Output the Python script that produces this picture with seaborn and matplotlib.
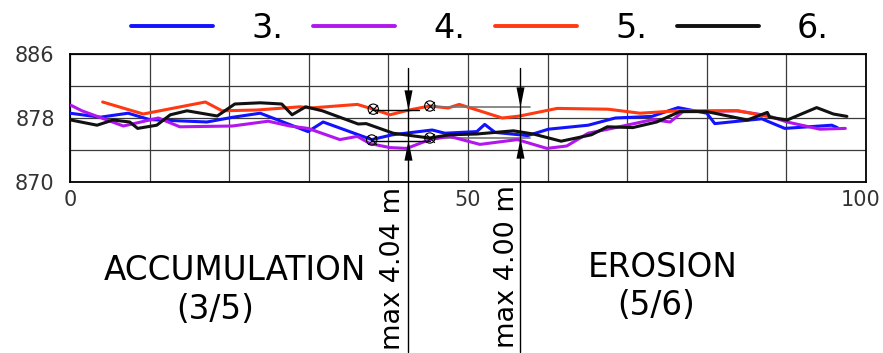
import numpy as np
import pandas as pd
import matplotlib
matplotlib.use('Agg')
import matplotlib.pyplot as plt
import matplotlib.transforms as mtransforms
import seaborn as sns
from matplotlib.path import Path

# ── profile data (distance [m], elevation [m]) ────────────────────────────────
x3 = [0.0, 3.8, 7.3, 10.0, 17.2, 20.5, 23.9, 29.9, 31.8, 37.9, 40.5, 45.5, 47.1, 51.1,
      52.1, 53.4, 57.5, 60.1, 65.1, 68.5, 73.1, 76.4, 80.0, 81.0, 86.9, 89.8, 95.7, 96.4]
y3 = [878.6, 878.1, 878.6, 877.8, 877.5, 878.1, 878.6, 876.3, 877.5, 875.3, 875.9, 876.5, 876.1, 876.3,
      877.2, 876.2, 875.8, 876.6, 877.1, 878.0, 878.2, 879.3, 878.6, 877.3, 877.9, 876.7, 877.1, 876.8]

x4 = [0.1, 1.5, 6.7, 11.1, 13.8, 20.4, 24.9, 27.6, 29.9, 33.9, 36.1, 37.7, 40.2, 42.3, 45.2,
      47.7, 51.5, 56.2, 59.9, 62.4, 65.1, 67.6, 73.2, 75.4, 77.0, 83.8, 87.6, 90.1, 94.2, 97.4]
y4 = [879.6, 878.9, 877.0, 878.0, 876.9, 877.0, 877.6, 877.0, 876.7, 875.3, 875.7, 874.8, 874.3, 874.2, 875.3,
      875.7, 874.7, 875.3, 874.2, 874.5, 876.1, 876.6, 877.8, 877.5, 878.8, 878.9, 878.3, 877.5, 876.6, 876.7]

x5 = [4.1, 9.2, 17.0, 19.1, 23.5, 28.9, 30.2, 36.1, 38.1, 40.2, 42.6, 45.2, 47.5, 48.9,
      54.3, 56.5, 61.2, 67.6, 71.6, 76.4, 83.9, 88.2]
y5 = [880.0, 878.5, 880.0, 878.9, 879.0, 879.4, 879.25, 879.7, 879.1, 878.4, 879.0, 879.5, 879.25, 879.7,
      878.0, 878.25, 879.2, 879.1, 878.6, 878.9, 878.9, 878.1]

x6 = [0.1, 3.4, 5.4, 7.5, 8.5, 10.9, 12.6, 14.7, 18.5, 20.7, 23.9, 26.6, 27.9, 29.6, 31.7, 36.2,
      37.2, 40.6, 43.6, 45.2, 47.7, 51.1, 55.7, 58.2, 61.7, 65.5, 67.5, 70.7, 73.7, 76.6, 80.0,
      85.1, 87.6, 87.9, 90.1, 93.8, 95.9, 97.6]
y6 = [877.75, 877.1, 877.75, 877.5, 876.7, 877.1, 878.4, 878.9, 878.25, 879.75, 879.9, 879.75, 878.4, 879.4, 878.9, 877.25,
      877.3, 876.1, 875.7, 875.5, 875.9, 876.0, 876.4, 876.0, 875.1, 875.9, 876.9, 876.8, 877.5, 878.8, 878.8,
      877.75, 878.7, 878.1, 877.75, 879.3, 878.5, 878.2]

labels = ['3.', '4.', '5.', '6.']
colors = ['#1212FF', '#B216EE', '#FF3A12', '#111111']

# measured points and max-difference arrows
mk_x = [38.1, 45.2, 37.9, 45.2]
mk_y = [879.1, 879.5, 875.25, 875.5]
arrow_x = [42.5, 56.5]
arrow_top = [879.0, 879.4]
arrow_bot = [875.2, 875.5]
arrow_txt = ['max 4.04 m', 'max 4.00 m']

df = pd.concat([pd.DataFrame({'dist': x, 'elev': y, 'serie': lab})
                for x, y, lab in zip([x3, x4, x5, x6], [y3, y4, y5, y6], labels)],
               ignore_index=True)

sns.set_style('white')
plt.rcParams['font.family'] = ['DejaVu Sans']
plt.rcParams['text.color'] = 'black'

fig = plt.figure(figsize=(8.83, 3.53), dpi=100)
ax = fig.add_axes([70/883, 1-182/353, (866-70)/883, 128/353])

sns.lineplot(data=df, x='dist', y='elev', hue='serie', hue_order=labels,
             palette=dict(zip(labels, colors)), estimator=None, sort=False,
             lw=2.2, legend=False, ax=ax, zorder=3)
handles = list(ax.lines[:4])

ax.set_xlim(0, 100); ax.set_ylim(870, 886)
ax.set_xticks([0, 50, 100]); ax.set_xticks(np.arange(10, 100, 10), minor=True)
ax.set_yticks([870, 878, 886]); ax.set_yticks([874, 882], minor=True)
ax.grid(which='both', color='#3a3a3a', lw=0.9)
ax.tick_params(which='both', length=0, labelsize=15, labelcolor='#333333')
ax.tick_params(axis='y', pad=11)
ax.tick_params(axis='x', pad=6)
ax.set_xlabel(''); ax.set_ylabel('')
for sp in ax.spines.values():
    sp.set_visible(True); sp.set_edgecolor('black'); sp.set_linewidth(1.3)

# keep the "100" label inside the picture
last = ax.get_xticklabels()[-1]
last.set_transform(last.get_transform() + mtransforms.ScaledTranslation(-5/100, 0, fig.dpi_scale_trans))

# reference lines between measured points
ax.plot([mk_x[0], arrow_x[0] + 1.3], [arrow_top[0]] * 2, color='black', lw=1, zorder=4)
ax.plot([mk_x[2], mk_x[3]], [arrow_bot[0] - 0.1] * 2, color='black', lw=1, zorder=4)
ax.plot([mk_x[1], arrow_x[1] + 1.3], [arrow_top[1]] * 2, color='#777777', lw=1.2, zorder=4)
ax.plot([mk_x[3], arrow_x[1] + 1.3], [arrow_bot[1]] * 2, color='#777777', lw=1.2, zorder=2)

ax.scatter(mk_x, mk_y, s=55, facecolors='none', edgecolors='black', lw=0.8, zorder=6)
ax.scatter(mk_x, mk_y, s=40, marker='x', color='black', lw=0.8, zorder=6)

# vertical arrows
down = Path([(0, 0), (-0.2, 1), (0.2, 1), (0, 0)])
up = Path([(0, 0), (-0.2, -1), (0.2, -1), (0, 0)])
for xa, yt, yb, in zip(arrow_x, arrow_top, arrow_bot):
    ax.plot([xa, xa], [884.2, 848.8], color='black', lw=1, clip_on=False, zorder=5)
    ax.plot([xa], [yt], marker=down, ms=29, color='black', mew=0, clip_on=False, zorder=7)
    ax.plot([xa], [yb], marker=up, ms=29, color='black', mew=0, clip_on=False, zorder=7)

fig.text(393/883, 1-268/353, arrow_txt[0], rotation=90, fontsize=19.5, ha='center', va='center')
fig.text(507/883, 1-267/353, arrow_txt[1], rotation=90, fontsize=19.5, ha='center', va='center')

fig.text(234.5/883, 1-280/353, 'ACCUMULATION', fontsize=23.5, ha='center', va='baseline')
fig.text(215/883, 1-319/353, '(3/5)', fontsize=23.5, ha='center', va='baseline')
fig.text(663/883, 1-277/353, 'EROSION', fontsize=23.5, ha='center', va='baseline')
fig.text(656.5/883, 1-315/353, '(5/6)', fontsize=23.5, ha='center', va='baseline')

leg = fig.legend(handles, labels, loc='center', bbox_to_anchor=(480/883, 1-28/353),
                 ncol=4, frameon=False, fontsize=24, handlelength=2.46, handletextpad=1.14,
                 columnspacing=0.9, borderpad=0, borderaxespad=0)
for lh in leg.get_lines():
    lh.set_linewidth(2.8)

fig.savefig('out.png', dpi=100)
